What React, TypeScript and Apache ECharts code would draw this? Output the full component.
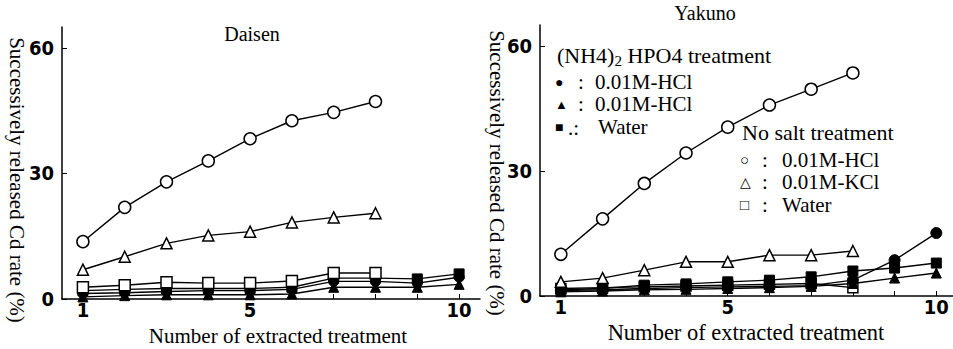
import React, { useEffect, useRef } from "react";
import * as echarts from "echarts";

const xs = [1, 2, 3, 4, 5, 6, 7, 8, 9, 10];
const xLabelValues = [1, 5, 10];
const yLabelValues = [0, 30, 60];

// Daisen
const daisenNoSaltHCl = [13.7, 21.9, 28, 33, 38.3, 42.6, 44.6, 47.2];
const daisenNoSaltKCl = [7, 10.1, 13.3, 15.2, 16.1, 18.3, 19.5, 20.5];
const daisenNoSaltWater = [2.8, 3.3, 4.0, 3.8, 3.8, 4.3, 6.2, 6.2];
const daisenNH4HCl = [1.3, 1.5, 1.8, 2.0, 2.0, 2.3, 4.2, 4.2, 3.8, 5.2];
const daisenNH4KCl = [0.5, 0.8, 1.0, 1.0, 1.0, 1.2, 2.8, 2.8, 2.8, 3.5];
const daisenNH4Water = [2.0, 2.3, 2.5, 2.5, 2.5, 2.8, 5.0, 5.0, 4.8, 6.0];

// Yakuno
const yakunoNoSaltHCl = [10, 18.5, 27, 34.3, 40.5, 45.8, 49.6, 53.5];
const yakunoNoSaltKCl = [3.4, 4.3, 6.2, 8.2, 8.2, 9.8, 9.8, 10.8];
const yakunoNoSaltWater = [1.8, 2.0, 2.2, 2.4, 2.6, 2.8, 3.0, 2.0];
const yakunoNH4HCl = [1.3, 1.5, 1.8, 2.0, 2.2, 2.3, 2.5, 3.8, 8.6, 15.1];
const yakunoNH4KCl = [1.0, 1.2, 1.5, 1.6, 1.8, 2.0, 2.3, 3.0, 4.3, 5.5];
const yakunoNH4Water = [1.5, 1.8, 2.6, 2.9, 3.4, 3.8, 4.6, 6.0, 6.7, 7.9];

const titles = ["Daisen", "Yakuno"];
const yName = "Successively released Cd rate (%)";
const xName = "Number of extracted treatment";

const SERIF = "'Liberation Serif', 'DejaVu Serif', serif";
const NUM = "'Liberation Sans Narrow', 'DejaVu Sans Condensed', 'Liberation Sans', sans-serif";

function pairs(v: number[]) {
  return v.map((y, i) => [xs[i], y]);
}

function mk(data: number[], idx: number, symbol: string, filled: boolean, size: number, z: number) {
  return {
    type: "line",
    xAxisIndex: idx,
    yAxisIndex: idx,
    data: pairs(data),
    symbol,
    symbolSize: size,
    showSymbol: true,
    z,
    lineStyle: { color: "#000", width: 1.4 },
    itemStyle: filled
      ? { color: "#000", borderColor: "#000", borderWidth: 1 }
      : { color: "#fff", borderColor: "#000", borderWidth: 1.5 },
  };
}

export default function App() {
  const ref = useRef<HTMLDivElement>(null);
  useEffect(() => {
    if (!ref.current) return;
    const chart = echarts.init(ref.current, undefined, { renderer: "svg" });
    const xAxis = (gi: number, max: number) => ({
      type: "value",
      gridIndex: gi,
      min: 0.5,
      max,
      axisLine: { lineStyle: { color: "#000", width: 1.5 } },
      axisTick: { inside: true, length: 5, customValues: xs, lineStyle: { color: "#000" } },
      axisLabel: {
        customValues: xLabelValues,
        color: "#000",
        fontFamily: NUM,
        fontWeight: "bold",
        fontSize: 20,
        lineHeight: 18,
        margin: 2,
      },
      splitLine: { show: false },
    });
    const yAxis = (gi: number) => ({
      type: "value",
      gridIndex: gi,
      min: 0,
      max: 65,
      axisLine: { show: true, lineStyle: { color: "#000", width: 1.5 } },
      axisTick: { show: true, inside: true, length: 5, customValues: yLabelValues, lineStyle: { color: "#000" } },
      axisLabel: {
        customValues: yLabelValues,
        color: "#000",
        fontFamily: NUM,
        fontWeight: "bold",
        fontSize: 20,
        margin: 8,
      },
      splitLine: { show: false },
    });
    const txt = (x: number, y: number, text: string, size: number, extra: any = {}) => ({
      type: "text",
      x,
      y,
      style: {
        text,
        fontFamily: SERIF,
        fontSize: size,
        fill: "#000",
        align: "left",
        verticalAlign: "middle",
        ...extra,
      },
    });
    const L = 21;
    chart.setOption({
      animation: false,
      backgroundColor: "#fff",
      grid: [
        { left: 62, top: 27, width: 418, height: 272 },
        { left: 540, top: 25, width: 413, height: 271 },
      ],
      xAxis: [xAxis(0, 10.5), xAxis(1, 10.4)],
      yAxis: [yAxis(0), yAxis(1)],
      series: [
        mk(daisenNH4KCl, 0, "triangle", true, 10, 3),
        mk(daisenNH4HCl, 0, "circle", true, 10, 4),
        mk(daisenNH4Water, 0, "rect", true, 10, 5),
        mk(daisenNoSaltWater, 0, "rect", false, 11, 6),
        mk(daisenNoSaltKCl, 0, "triangle", false, 11, 6),
        mk(daisenNoSaltHCl, 0, "circle", false, 12, 6),
        mk(yakunoNoSaltWater, 1, "rect", false, 10, 3),
        mk(yakunoNH4KCl, 1, "triangle", true, 10, 4),
        mk(yakunoNH4Water, 1, "rect", true, 10, 5),
        mk(yakunoNH4HCl, 1, "circle", true, 11, 6),
        mk(yakunoNoSaltKCl, 1, "triangle", false, 11, 6),
        mk(yakunoNoSaltHCl, 1, "circle", false, 12, 6),
      ],
      graphic: [
        txt(252, 34, titles[0], 20, { align: "center" }),
        txt(705, 13, titles[1], 20, { align: "center" }),
        {
          type: "text",
          x: 17,
          y: 180,
          rotation: -Math.PI / 2,
          style: { text: yName, fontFamily: SERIF, fontSize: 21, fill: "#000", align: "center", verticalAlign: "middle" },
        },
        {
          type: "text",
          x: 497,
          y: 173,
          rotation: -Math.PI / 2,
          style: { text: yName, fontFamily: SERIF, fontSize: 21, fill: "#000", align: "center", verticalAlign: "middle" },
        },
        txt(278, 336, xName, 21, { align: "center" }),
        txt(746, 332, xName, 22.5, { align: "center", lineHeight: 20 }),
        {
          type: "text",
          x: 557,
          y: 55,
          style: {
            text: "(NH4){s|2} HPO4 treatment",
            fontFamily: SERIF,
            fontSize: 22,
            fill: "#000",
            verticalAlign: "middle",
            rich: { s: { fontFamily: SERIF, fontSize: 15, fill: "#000", padding: [12, 0, 0, 0] } },
          },
        },
        txt(555, 82, "●", 14),
        txt(578, 82, ":", L),
        txt(595, 82, "0.01M-HCl", L),
        txt(555, 104, "▲", 13),
        txt(578, 104, ":", L),
        txt(595, 104, "0.01M-HCl", L),
        txt(555, 127, "■", 14),
        txt(568, 128, ".:", L),
        txt(598, 127, "Water", L),
        txt(742, 132, "No salt treatment", 22),
        txt(740, 160, "○", 15),
        txt(762, 160, ":", L),
        txt(782, 160, "0.01M-HCl", L),
        txt(740, 182, "△", 14),
        txt(762, 182, ":", L),
        txt(782, 182, "0.01M-KCl", L),
        txt(740, 205, "□", 15),
        txt(762, 205, ":", L),
        txt(782, 205, "Water", L),
      ],
    });
    return () => chart.dispose();
  }, []);
  return (
    <div
      ref={ref}
      style={{ position: "fixed", left: 0, top: 0, width: 953, height: 349, background: "#fff" }}
    />
  );
}
